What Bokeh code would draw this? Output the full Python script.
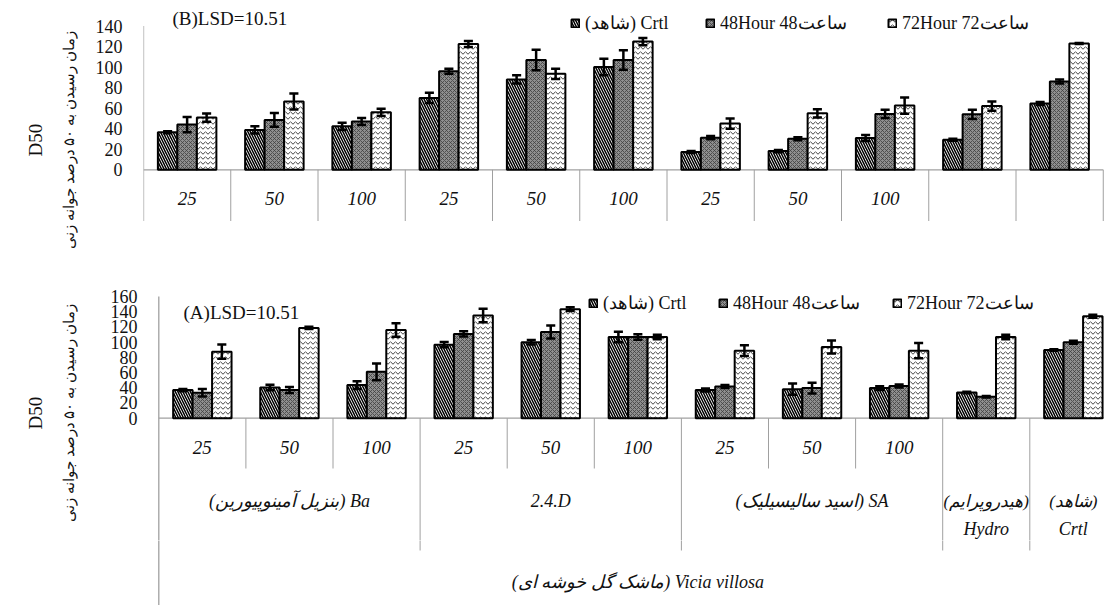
import numpy as np
from bokeh.plotting import figure
from bokeh.models import Range1d, FixedTicker, Label, Legend, LegendItem, LinearAxis
from bokeh.layouts import column
from bokeh.core.properties import value
from bokeh.embed import file_html
from bokeh.resources import INLINE

# ---------------- data ----------------
conc_labels = ["25", "50", "100", "25", "50", "100", "25", "50", "100", "", ""]
series_names = ["(شاهد) Crtl", "48Hour 48ساعت", "72Hour 72ساعت"]
group_names = ["(بنزیل آمینوپیورین) Ba", "2.4.D", "(اسید سالیسیلیک) SA"]
group_spans = [(0, 3), (3, 6), (6, 9)]
single_top = ["(هیدروپرایم)", "(شاهد)"]
single_bottom = ["Hydro", "Crtl"]
species_label = "(ماشک گل خوشه ای) Vicia villosa"
y_title = "D50"
y_title_fa = "زمان رسیدن به ۵۰ درصد جوانه زنی"
lsd_B = "(B)LSD=10.51"
lsd_A = "(A)LSD=10.51"
ticks_B = [0, 20, 40, 60, 80, 100, 120, 140]
ticks_A = [0, 20, 40, 60, 80, 100, 120, 140, 160]

B_crtl = [36.5, 38.8, 42.3, 70, 88, 100, 17.3, 18.2, 31, 29.3, 64.5]
B_crtl_err = [1, 3.5, 3.5, 5, 4, 8, 1, 1, 3, 1, 1.5]
B_48 = [44, 48.5, 47, 96, 107, 107, 31.3, 30.3, 54.4, 54, 86]
B_48_err = [7.5, 6.7, 3.5, 2.5, 10, 9.5, 1.5, 1.5, 4, 4.5, 2]
B_72 = [50.8, 66.4, 56, 122.5, 93.5, 124.8, 45, 55, 62.5, 62, 123]
B_72_err = [4, 7.8, 3.5, 3, 5, 3.5, 5, 4, 8, 4.5, 0.5]

A_crtl = [37, 40.4, 43.5, 96.7, 99.8, 106.8, 37, 38.2, 39.6, 33.8, 89.7]
A_crtl_err = [1.5, 3.5, 5, 3.5, 3, 7, 2, 7.5, 2.5, 1, 1]
A_48 = [33.4, 37, 61, 110.8, 113.4, 106.8, 41.8, 39.6, 42.2, 28.1, 99.8]
A_48_err = [5, 4, 11, 3.5, 8.5, 3.5, 2, 7, 2, 1, 2]
A_72 = [87.5, 118.7, 116, 135, 143.3, 106.8, 88.8, 93.6, 88.8, 106.8, 134]
A_72_err = [9.5, 1.5, 9, 9, 2.5, 3, 7, 8.5, 10, 3, 2]

# ---------------- styles ----------------
SERIF = "Liberation Serif"
GREY = "#a0a0a0"
TXT = "#111111"
BAR_W = 0.2235
styles = [
    dict(fill_color="white", hatch_pattern="left_diagonal_line", hatch_color="black",
         hatch_scale=5, hatch_weight=1.5),
    dict(fill_color="#8f8f8f", hatch_pattern="diagonal_cross", hatch_color="#404040",
         hatch_scale=4, hatch_weight=0.8),
    dict(fill_color="white", hatch_pattern="horizontal_wave", hatch_color="#444444",
         hatch_scale=5, hatch_weight=1.0),
]

W = 1104
FRAME_LEFT = 143


def base_fig(height, x_start, x_end, y_start, y_end):
    p = figure(width=W, height=height, x_range=Range1d(x_start, x_end),
               y_range=Range1d(y_start, y_end), output_backend="svg",
               toolbar_location=None, x_axis_location=None, y_axis_location=None,
               min_border_left=FRAME_LEFT, min_border_right=0,
               min_border_top=0, min_border_bottom=0)
    p.title.visible = False
    p.grid.visible = False
    p.outline_line_color = None
    p.background_fill_color = "white"
    p.border_fill_color = "white"
    return p


def add_axes(p, ticks, label_standoff, fa_standoff, d50_standoff):
    ax = LinearAxis(ticker=FixedTicker(ticks=ticks))
    ax.axis_line_color = None
    ax.major_tick_line_color = None
    ax.minor_tick_line_color = None
    ax.major_tick_out = 0
    ax.major_tick_in = 0
    ax.major_label_standoff = label_standoff
    ax.major_label_text_font = SERIF
    ax.major_label_text_font_size = "18px"
    ax.major_label_text_color = TXT
    ax.axis_label = y_title_fa
    ax.axis_label_text_font = SERIF
    ax.axis_label_text_font_style = "normal"
    ax.axis_label_text_font_size = "15px"
    ax.axis_label_text_color = TXT
    ax.axis_label_standoff = fa_standoff
    p.add_layout(ax, "left")
    ax2 = LinearAxis(ticker=FixedTicker(ticks=[]))
    ax2.axis_line_color = None
    ax2.major_tick_line_color = None
    ax2.minor_tick_line_color = None
    ax2.major_tick_out = 0
    ax2.major_tick_in = 0
    ax2.major_label_standoff = 0
    ax2.major_label_text_font_size = "1px"
    ax2.axis_label = y_title
    ax2.axis_label_text_font = SERIF
    ax2.axis_label_text_font_style = "normal"
    ax2.axis_label_text_font_size = "19px"
    ax2.axis_label_text_color = TXT
    ax2.axis_label_standoff = d50_standoff
    p.add_layout(ax2, "left")


def draw_bars(p, vals, errs):
    centers = np.arange(len(vals[0])) + 0.5
    renderers = []
    cap = 0.052
    for i, (v, e, st) in enumerate(zip(vals, errs, styles)):
        x = centers + (i - 1) * BAR_W
        r = p.vbar(x=x, top=v, width=BAR_W, bottom=0, line_color="black",
                   line_width=2, **st)
        renderers.append(r)
        v = np.array(v, dtype=float)
        e = np.array(e, dtype=float)
        p.segment(x0=x, y0=v - e, x1=x, y1=v + e, line_color="black", line_width=2.5)
        p.segment(x0=x - cap, y0=v + e, x1=x + cap, y1=v + e, line_color="black", line_width=2.5)
        p.segment(x0=x - cap, y0=v - e, x1=x + cap, y1=v - e, line_color="black", line_width=2.5)
    return renderers


def add_legend(p, renderers, xs, y):
    for name, r, x in zip(series_names, renderers, xs):
        lg = Legend(items=[LegendItem(label=name, renderers=[r])], location=(x, y),
                    orientation="horizontal", padding=0, margin=0,
                    border_line_color=None, background_fill_alpha=0,
                    glyph_width=10, glyph_height=10, label_standoff=5,
                    label_text_font=SERIF, label_text_font_size="18px",
                    label_text_color=TXT, label_height=20)
        p.add_layout(lg)


n = len(conc_labels)
CAT_FONT = dict(text_font=value(SERIF), text_font_style="italic",
                text_align="center", text_baseline="middle", text_color=TXT)

# ---------------- top panel (B) : page y 0..279 ----------------
TX0, TGW, TY0, TK, TH = 143.0, 87.25, 169.3, 1.0271, 279
tx = lambda r: (r - TX0) / TGW
ty = lambda r: (TY0 - r) / TK
pt = base_fig(TH, (FRAME_LEFT - TX0) / TGW, (W - TX0) / TGW, ty(TH), ty(0))
add_axes(pt, ticks_B, 21, 16, 12)
pt.segment(x0=[0], y0=[ty(220.5)], x1=[0], y1=[ticks_B[-1]], line_color=GREY, line_width=1.3)
pt.segment(x0=[0], y0=[0], x1=[n], y1=[0], line_color=GREY, line_width=1.3)
sep = np.arange(1, n + 1)
pt.segment(x0=sep, y0=np.zeros(n), x1=sep, y1=np.full(n, ty(220.5)), line_color=GREY, line_width=1)
rt = draw_bars(pt, [B_crtl, B_48, B_72], [B_crtl_err, B_48_err, B_72_err])
pt.text(x=np.arange(n) + 0.5, y=np.full(n, ty(197.5)), text=conc_labels,
        text_font_size="19px", **CAT_FONT)
pt.add_layout(Label(x=tx(172), y=ty(18), text=lsd_B, text_font=SERIF,
                    text_font_size="19px", text_align="left", text_baseline="middle",
                    text_color=TXT))
add_legend(pt, rt, [570 - FRAME_LEFT, 705 - FRAME_LEFT, 887 - FRAME_LEFT], TH - 33.5)

# ---------------- separator band : page y 279..285 ----------------
SH = 6
ps = base_fig(SH, 0, W - FRAME_LEFT, 0, SH)
ps.background_fill_color = "#dcebf1"
ps.border_fill_color = "#dcebf1"
ps.scatter(x=[557 - FRAME_LEFT, 562 - FRAME_LEFT, 567 - FRAME_LEFT, 572 - FRAME_LEFT],
           y=[3, 3, 3, 3], size=2, color="#8fa0a8")

# ---------------- bottom panel (A) : page y 285..540 ----------------
BX0, BGW, BY0, BK = 158.3, 87.1, 417.7, 0.7606
BTOP, BBOT, PAGE_H = 285, 540, 605
bx = lambda r: (r - BX0) / BGW
by = lambda r: (BY0 - r) / BK
xs0, xs1 = (FRAME_LEFT - BX0) / BGW, (W - BX0) / BGW
pb = base_fig(BBOT - BTOP, xs0, xs1, by(BBOT), by(BTOP))
add_axes(pb, ticks_A, 6, 31, 12)

# footer : page y 540..605 (continuation of the category axis)
pf = base_fig(PAGE_H - BBOT, xs0, xs1, by(PAGE_H), by(BBOT))

long_sep = [b for (a, b) in group_spans] + [10, 11]
short_sep = [i for i in range(1, n) if i not in long_sep]
for p in (pb, pf):
    p.segment(x0=[0], y0=[by(PAGE_H + 5)], x1=[0], y1=[ticks_A[-1]], line_color=GREY, line_width=1.3)
    p.segment(x0=long_sep, y0=[0] * len(long_sep), x1=long_sep, y1=[by(550)] * len(long_sep),
              line_color=GREY, line_width=1)
pb.segment(x0=[0], y0=[0], x1=[n], y1=[0], line_color=GREY, line_width=1.3)
pb.segment(x0=short_sep, y0=[0] * len(short_sep), x1=short_sep, y1=[by(468)] * len(short_sep),
           line_color=GREY, line_width=1)
rb = draw_bars(pb, [A_crtl, A_48, A_72], [A_crtl_err, A_48_err, A_72_err])
pb.text(x=np.arange(n) + 0.5, y=np.full(n, by(446.7)), text=conc_labels,
        text_font_size="19px", **CAT_FONT)
gx = [(a + b) / 2 for (a, b) in group_spans]
pb.text(x=gx, y=[by(500)] * len(gx), text=group_names, text_font_size="18px", **CAT_FONT)
sx = [9.5, 10.5]
pb.text(x=sx, y=[by(501)] * 2, text=single_top, text_font_size="17px", **CAT_FONT)
pb.text(x=sx, y=[by(528)] * 2, text=single_bottom, text_font_size="18px", **CAT_FONT)
pf.text(x=[n / 2], y=[by(581)], text=[species_label], text_font_size="18px", **CAT_FONT)
pb.add_layout(Label(x=bx(183), y=by(311.5), text=lsd_A, text_font=SERIF,
                    text_font_size="19px", text_align="left", text_baseline="middle",
                    text_color=TXT))
add_legend(pb, rb, [588 - FRAME_LEFT, 718 - FRAME_LEFT, 892 - FRAME_LEFT], BBOT - 314)

layout = column(pt, ps, pb, pf, spacing=0)
open("out.html", "w").write(file_html(layout, INLINE))
